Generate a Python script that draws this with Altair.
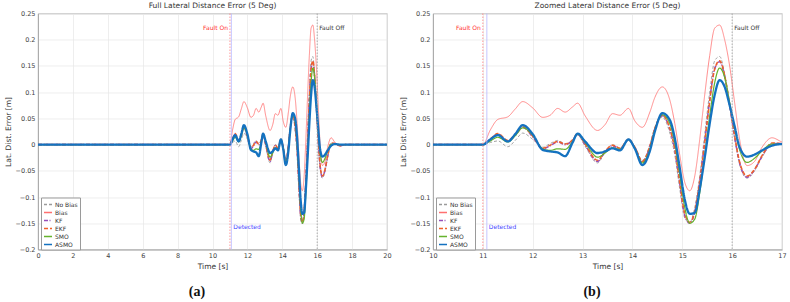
import altair as alt
import pandas as pd

# ---- data ----
TIME = [0, 11.0, 11.15, 11.3, 11.5, 11.65, 11.8, 12.0, 12.2, 12.35, 12.5, 12.65, 12.8, 12.9,
        13.05, 13.3, 13.45, 13.6, 13.75, 13.92, 14.05, 14.2, 14.35, 14.45, 14.6, 14.75, 14.85,
        14.95, 15.05, 15.15, 15.25, 15.35, 15.45, 15.55, 15.65, 15.75, 15.85, 15.95, 16.05,
        16.15, 16.3, 16.45, 16.6, 16.8, 17.0, 17.3, 17.6, 20]

NO_BIAS = [0, 0, 0.004, 0.007, -0.004, 0.008, 0.022, 0.010, -0.005, 0.002, 0.008, 0.002, 0.008, 0.018,
           -0.003, -0.035, -0.014, 0.000, -0.006, 0.008, -0.004, -0.030, 0.000, 0.033, 0.052, 0.022, -0.020,
           -0.085, -0.140, -0.148, -0.120, -0.060, 0.020, 0.100, 0.160, 0.168, 0.135, 0.075, 0.012,
           -0.038, -0.064, -0.050, -0.024, 0.001, 0.002, -0.001, 0, 0]
BIAS = [0, 0, 0.028, 0.048, 0.053, 0.068, 0.082, 0.070, 0.052, 0.056, 0.069, 0.062, 0.072, 0.079,
        0.055, 0.027, 0.038, 0.059, 0.056, 0.069, 0.045, 0.033, 0.062, 0.090, 0.110, 0.085, 0.040,
        -0.020, -0.072, -0.088, -0.060, 0.010, 0.095, 0.170, 0.222, 0.228, 0.200, 0.150, 0.080,
        0.010, -0.040, -0.032, -0.005, 0.013, 0.005, -0.002, 0, 0]
KF = [0, 0, 0.010, 0.020, 0.007, 0.018, 0.033, 0.015, -0.008, -0.002, 0.005, 0.000, 0.008, 0.020,
      0.000, -0.032, -0.014, -0.002, -0.008, 0.009, -0.006, -0.033, -0.004, 0.030, 0.055, 0.030, -0.010,
      -0.075, -0.135, -0.150, -0.128, -0.070, 0.005, 0.085, 0.145, 0.158, 0.130, 0.075, 0.015,
      -0.035, -0.062, -0.048, -0.022, 0.002, 0.002, -0.002, 0, 0]
EKF = [0, 0, 0.011, 0.021, 0.008, 0.019, 0.034, 0.016, -0.007, -0.001, 0.006, 0.001, 0.009, 0.021,
       0.001, -0.030, -0.013, -0.001, -0.007, 0.010, -0.005, -0.032, -0.003, 0.031, 0.056, 0.031, -0.008,
       -0.072, -0.132, -0.148, -0.127, -0.070, 0.004, 0.083, 0.144, 0.160, 0.132, 0.077, 0.017,
       -0.033, -0.060, -0.047, -0.021, 0.003, 0.002, -0.002, 0, 0]
SMO = [0, 0, 0.007, 0.014, 0.005, 0.017, 0.032, 0.018, -0.008, -0.011, -0.008, -0.009, 0.006, 0.020,
       0.004, -0.024, -0.016, -0.006, -0.009, 0.009, -0.007, -0.035, -0.008, 0.028, 0.057, 0.040, 0.002,
       -0.058, -0.120, -0.150, -0.142, -0.092, -0.020, 0.055, 0.118, 0.146, 0.128, 0.080, 0.030,
       -0.010, -0.034, -0.026, -0.012, 0.001, 0.001, 0, 0, 0]
ASMO = [0, 0, 0.010, 0.018, 0.006, 0.020, 0.037, 0.020, -0.010, -0.013, -0.015, -0.022, 0.004, 0.021,
        0.006, -0.016, -0.013, -0.007, -0.011, 0.010, -0.008, -0.039, -0.012, 0.025, 0.060, 0.047, 0.012,
        -0.045, -0.105, -0.132, -0.130, -0.085, -0.025, 0.040, 0.095, 0.123, 0.110, 0.075, 0.035,
        -0.005, -0.023, -0.019, -0.011, -0.002, 0.001, 0.000, 0, 0]

NAMES = ["No Bias", "Bias", "KF", "EKF", "SMO", "ASMO"]
SERIES = [NO_BIAS, BIAS, KF, EKF, SMO, ASMO]
COLORS = ["#9a9a9a", "#ff7070", "#9650b8", "#f0602a", "#66b32e", "#1472c0"]
DASHES = [[3, 2], [1, 0], [4, 1.5, 1, 1.5], [4, 2], [1, 0], [1, 0]]
WIDTHS = [0.9, 0.8, 1.6, 1.5, 1.2, 2.3]

EVENT_T = {"Fault On": 11.0, "Detected": 11.08, "Fault Off": 16.0}
YTICKS = [-0.2, -0.15, -0.1, -0.05, 0, 0.05, 0.1, 0.15, 0.2, 0.25]
XTICKS_FULL = [0, 2, 4, 6, 8, 10, 12, 14, 16, 18, 20]
XTICKS_ZOOM = [10, 11, 12, 13, 14, 15, 16, 17]

rows = []
for k, (name, vals) in enumerate(zip(NAMES, SERIES)):
    for t, v in zip(TIME, vals):
        rows.append({"t": t, "v": v, "series": name, "k": k})
df = pd.DataFrame(rows)

FONT = "DejaVu Sans"
W, H = 349, 236

names_js = "[" + ",".join("'%s'" % n for n in NAMES) + "]"
dash_js = "[" + ",".join("[" + ",".join(str(d) for d in ds) + "]" for ds in DASHES) + "]"
DASH_EXPR = "%s[indexof(%s, datum.value)]" % (dash_js, names_js)


def make_legend():
    return alt.Legend(orient="none", legendX=3, legendY=184, title=None, padding=2,
                      fillColor="white", strokeColor="#9a9a9a", labelFontSize=6, labelFont=FONT,
                      labelColor="#333", symbolType="stroke", symbolSize=64, rowPadding=-0.3,
                      labelOffset=2, cornerRadius=0, symbolStrokeWidth=1.5,
                      symbolDash=alt.ExprRef(expr=DASH_EXPR))


def panel(xmin, xmax, xticks, title, caption):
    xs = alt.Scale(domain=[xmin, xmax], nice=False, zero=False)
    ys = alt.Scale(domain=[-0.2, 0.25], nice=False)
    cs = alt.Scale(domain=NAMES, range=COLORS)
    xa = alt.Axis(values=xticks, title="Time [s]", labelOverlap=False, labelFlush=False,
                  tickCount=len(xticks))
    ya = alt.Axis(values=YTICKS, format=".2~f", title="Lat. Dist. Error [m]",
                  labelOverlap=False, labelFlush=False, tickCount=len(YTICKS))
    X = alt.X("t:Q", scale=xs, axis=xa)
    Y = alt.Y("v:Q", scale=ys, axis=ya)
    line_layers = []
    for k, name in enumerate(NAMES):
        line_layers.append(
            alt.Chart(df[df.series == name]).mark_line(
                interpolate="monotone", clip=True, strokeDash=DASHES[k], strokeWidth=WIDTHS[k]).encode(
                x=X, y=Y,
                color=alt.Color("series:N", scale=cs, legend=make_legend()),
            ))
    ev = pd.DataFrame({"t": list(EVENT_T.values()), "name": list(EVENT_T.keys())})
    on_rule = alt.Chart(ev[ev.name == "Fault On"]).mark_rule(color="#ff8080", strokeWidth=0.8, strokeDash=[1.5, 1.5]).encode(x=X)
    det_rule = alt.Chart(ev[ev.name == "Detected"]).mark_rule(color="#b8b8ff", strokeWidth=0.8).encode(x=X)
    off_rule = alt.Chart(ev[ev.name == "Fault Off"]).mark_rule(color="#9a9a9a", strokeWidth=0.8, strokeDash=[1.5, 1.5]).encode(x=X)
    ann = pd.DataFrame({"t": [11.0, 11.08, 16.0], "v": [0.223, -0.158, 0.223],
                        "txt": ["Fault On", "Detected", "Fault Off"]})
    t_on = alt.Chart(ann[ann.txt == "Fault On"]).mark_text(align="right", dx=-2, fontSize=6, font=FONT, color="#ff3030").encode(x=X, y=Y, text="txt:N")
    t_det = alt.Chart(ann[ann.txt == "Detected"]).mark_text(align="left", dx=2, fontSize=6, font=FONT, color="#4848ff").encode(x=X, y=Y, text="txt:N")
    t_off = alt.Chart(ann[ann.txt == "Fault Off"]).mark_text(align="left", dx=2, fontSize=6, font=FONT, color="#333333").encode(x=X, y=Y, text="txt:N")
    cap = alt.Chart(pd.DataFrame({"c": [caption]})).mark_text(
        font="Liberation Serif", fontWeight="bold", fontSize=14, color="#111").encode(
        x=alt.value(159), y=alt.value(278), text="c:N")
    return alt.layer(*line_layers, on_rule, det_rule, off_rule, t_on, t_det, t_off, cap).properties(
        width=W, height=H,
        title=alt.TitleParams(text=title, fontSize=7.5, font=FONT, fontWeight="normal",
                              color="#333", offset=1.5, anchor="middle"))


left = panel(0, 20, XTICKS_FULL, "Full Lateral Distance Error (5 Deg)", "(a)")
right = panel(10, 17, XTICKS_ZOOM, "Zoomed Lateral Distance Error (5 Deg)", "(b)")

chart = alt.hconcat(left, right, spacing=6).resolve_scale(
    x="independent", y="independent", color="independent").resolve_legend(
    color="independent").configure(
    padding={"left": 3, "top": 0.5, "right": 0, "bottom": 0}, background="white").configure_view(
    stroke="#a0a0a0", strokeWidth=0.8).configure_axis(
    labelFont=FONT, labelFontSize=6.5, labelColor="#444", titleFont=FONT, titleFontSize=7.5,
    titleFontWeight="normal", titleColor="#333", gridColor="#e6e6e6", gridWidth=0.7,
    domainColor="#a0a0a0", domainWidth=0.8, ticks=False, labelPadding=3, titlePadding=3)

chart.save("out.html", embed_options={"renderer": "svg", "actions": False})
